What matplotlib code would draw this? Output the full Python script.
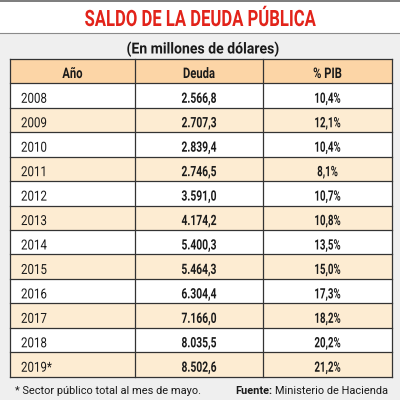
import matplotlib
matplotlib.use("Agg")
import matplotlib.pyplot as plt
from matplotlib.patches import Rectangle
from matplotlib.patheffects import AbstractPathEffect
from matplotlib.transforms import Affine2D

years = ["2008", "2009", "2010", "2011", "2012", "2013", "2014", "2015",
         "2016", "2017", "2018", "2019*"]
deuda = [2566.8, 2707.3, 2839.4, 2746.5, 3591.0, 4174.2, 5400.3, 5464.3,
         6304.4, 7166.0, 8035.5, 8502.6]
pib = [10.4, 12.1, 10.4, 8.1, 10.7, 10.8, 13.5, 15.0, 17.3, 18.2, 20.2, 21.2]
headers = ["Año", "Deuda", "% PIB"]

FONT = ["Roboto", "DejaVu Sans"]
INK = "#1a1a1a"


class Condense(AbstractPathEffect):
    """Squeeze glyphs horizontally around the text anchor (condensed look)."""

    def __init__(self, text, sx):
        super().__init__()
        self.text = text
        self.sx = sx

    def draw_path(self, renderer, gc, tpath, affine, rgbFace=None):
        cx = self.text.get_transform().transform(self.text.get_position())[0]
        squeeze = Affine2D().translate(-cx, 0).scale(self.sx, 1).translate(cx, 0)
        renderer.draw_path(gc, tpath, affine + squeeze, rgbFace)


def label(ax, x, y, s, sx=1.0, **kw):
    kw.setdefault("color", INK)
    kw.setdefault("va", "baseline")
    t = ax.text(x, y, s, family=FONT, **kw)
    if sx != 1.0:
        t.set_path_effects([Condense(t, sx)])
    return t


def fmt_num(v):
    s = f"{v:,.1f}"
    return s.replace(",", "X").replace(".", ",").replace("X", ".")


def fmt_pct(v):
    return f"{v:.1f}".replace(".", ",") + "%"


fig = plt.figure(figsize=(4, 4), dpi=100)
ax = fig.add_axes([0, 0, 1, 1])
ax.set_xlim(0, 400)
ax.set_ylim(400, 0)
ax.axis("off")

# background
ax.add_patch(Rectangle((0, 0), 400, 32.5, facecolor="white", edgecolor="none"))
ax.add_patch(Rectangle((0, 32.5), 400, 367.5, facecolor="#efefef", edgecolor="none"))
ax.plot([0, 400], [0.6, 0.6], color="#666666", lw=1.2)
ax.plot([0, 400], [32.5, 32.5], color="#8a8a8a", lw=0.8)

label(ax, 200, 26, "SALDO DE LA DEUDA PÚBLICA", sx=0.74, color="#e2231a",
      fontsize=16.2, fontweight="bold", ha="center")
label(ax, 203, 53.5, "(En millones de dólares)", sx=0.92, fontsize=11,
      fontweight="bold", ha="center")

left, right = 10, 392
col_edges = [10, 135, 263, 392]
top = 59
head_h = 24.3
row_h = 24.45
base_off = 19.5

ax.add_patch(Rectangle((left, top), right - left, head_h,
                       facecolor="#fcd5a6", edgecolor="none"))
for i, h in enumerate(headers):
    cx = (col_edges[i] + col_edges[i + 1]) / 2
    label(ax, cx, top + base_off - 0.5, h, sx=0.77, fontsize=10.5,
          fontweight="bold", ha="center")

for r, (y, d, p) in enumerate(zip(years, deuda, pib)):
    y0 = top + head_h + r * row_h
    color = "#fdecd2" if r % 2 == 1 else "white"
    ax.add_patch(Rectangle((left, y0), right - left, row_h,
                           facecolor=color, edgecolor="none"))
    yb = y0 + base_off
    label(ax, 21, yb, y, sx=0.83, fontsize=10, ha="left")
    label(ax, (col_edges[1] + col_edges[2]) / 2, yb, fmt_num(d), sx=0.72,
          fontsize=10.3, fontweight="bold", ha="center")
    label(ax, (col_edges[2] + col_edges[3]) / 2, yb, fmt_pct(p), sx=0.68,
          fontsize=10.3, fontweight="bold", ha="center")

bottom = top + head_h + len(years) * row_h
for r in range(len(years) + 2):
    yy = top + (head_h + (r - 1) * row_h if r > 0 else 0)
    ax.plot([left, right], [yy, yy], color="#333333", lw=0.9)
for x in col_edges:
    ax.plot([x, x], [top, bottom], color="#333333", lw=0.9)

# footer
label(ax, 15, 394, "* Sector público total al mes de mayo.", fontsize=7.9, ha="left")
t = label(ax, 388, 394, "Ministerio de Hacienda", fontsize=7.9, ha="right")
fig.canvas.draw()
bb = t.get_window_extent().transformed(ax.transData.inverted())
label(ax, bb.x0 - 2.5, 394, "Fuente:", fontsize=7.9, fontweight="bold", ha="right")

fig.savefig("out.png", dpi=100)
